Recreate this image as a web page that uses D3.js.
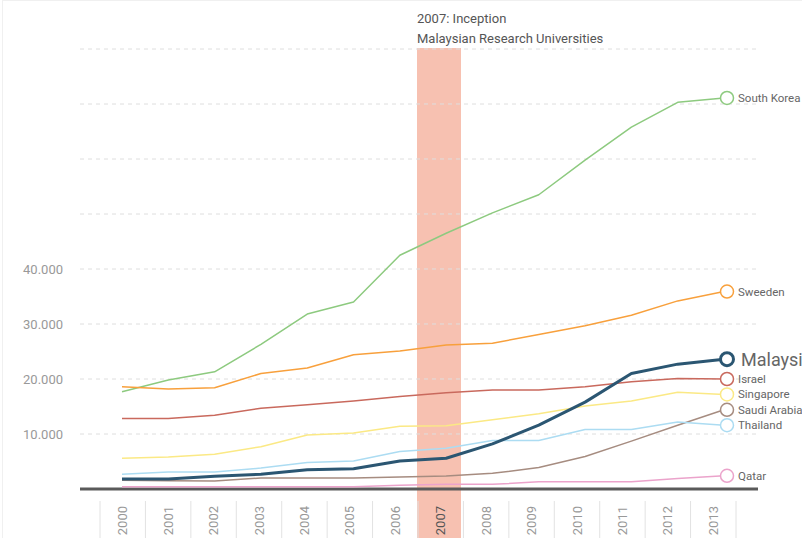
<!DOCTYPE html>
<html>
<head>
<meta charset="utf-8">
<script src="https://cdn.jsdelivr.net/npm/d3@7"></script>
<style>
  body { margin: 0; background: #fff; }
  text { font-family: Roboto, "Open Sans", sans-serif; }
</style>
</head>
<body>
<div id="chart"></div>
<script>
const years = [2000, 2001, 2002, 2003, 2004, 2005, 2006, 2007, 2008, 2009, 2010, 2011, 2012, 2013];

const southKorea = [17700, 19800, 21300, 26300, 31800, 34000, 42500, 46500, 50200, 53500, 59800, 65800, 70300, 71100];
const sweeden = [18600, 18200, 18400, 21000, 22000, 24400, 25100, 26200, 26500, 28100, 29700, 31600, 34200, 35900];
const malaysia = [1800, 1800, 2300, 2700, 3500, 3700, 5100, 5600, 8200, 11600, 15800, 21000, 22700, 23600];
const israel = [12800, 12800, 13400, 14700, 15300, 16000, 16800, 17500, 18000, 18000, 18600, 19500, 20100, 20000];
const singapore = [5600, 5800, 6300, 7700, 9800, 10200, 11400, 11500, 12600, 13700, 15100, 16000, 17600, 17200];
const saudiArabia = [1600, 1500, 1450, 2000, 2000, 2000, 2200, 2350, 2850, 3900, 5900, 8700, 11600, 14400];
const thailand = [2700, 3100, 3100, 3800, 4800, 5100, 6800, 7400, 8800, 8800, 10800, 10800, 12200, 11600];
const qatar = [400, 400, 400, 400, 400, 400, 700, 850, 850, 1300, 1300, 1300, 1900, 2400];

const yTicks = [10000, 20000, 30000, 40000];
const gridTicks = [10000, 20000, 30000, 40000, 50000, 60000, 70000, 80000];
const highlightYear = 2007;
const noteLines = ["2007: Inception", "Malaysian Research Universities"];

const series = [
  { name: "South Korea", values: southKorea, color: "#8dca7f" },
  { name: "Sweeden", values: sweeden, color: "#f8a03c" },
  { name: "Israel", values: israel, color: "#c9695d" },
  { name: "Singapore", values: singapore, color: "#fbe985" },
  { name: "Saudi Arabia", values: saudiArabia, color: "#a68c80" },
  { name: "Thailand", values: thailand, color: "#acdcf2" },
  { name: "Qatar", values: qatar, color: "#eba3cb" },
  { name: "Malaysia", values: malaysia, color: "#2b5672", main: true }
];

const width = 802, height = 538;

const svg = d3.select("#chart").append("svg")
  .attr("width", width)
  .attr("height", height);

// faint frame
svg.append("rect")
  .attr("x", 2.5).attr("y", 0.5)
  .attr("width", width).attr("height", height)
  .attr("fill", "none")
  .attr("stroke", "#f0f0f0");

const y = d3.scaleLinear().domain([0, 80000]).range([489, 49]);
const band = d3.scaleBand().domain(years).range([100, 736]).padding(0);
const x = d3.scalePoint().domain(years).range([122, 724]);

const fmt = d3.formatLocale({ decimal: ",", thousands: ".", grouping: [3], currency: ["", ""] }).format(",");

// highlight band
svg.append("rect")
  .attr("x", 417)
  .attr("width", 44)
  .attr("y", 48)
  .attr("height", height - 48)
  .attr("fill", "#f7c1b1");

// note
svg.append("g").selectAll("text")
  .data(noteLines)
  .enter()
  .append("text")
  .attr("x", 417)
  .attr("y", (d, i) => 23 + i * 20)
  .attr("font-size", 13)
  .attr("fill", "#555")
  .text(d => d);

// grid
svg.append("g").selectAll("line")
  .data(gridTicks)
  .enter()
  .append("line")
  .attr("x1", 80).attr("x2", 758)
  .attr("y1", d => y(d)).attr("y2", d => y(d))
  .attr("stroke", "#dedede")
  .attr("stroke-dasharray", "4,4");

// y axis labels
svg.append("g").selectAll("text")
  .data(yTicks)
  .enter()
  .append("text")
  .attr("x", 63)
  .attr("y", d => y(d))
  .attr("dy", "0.35em")
  .attr("text-anchor", "end")
  .attr("font-size", 13)
  .attr("fill", "#999")
  .text(d => fmt(d));

// x axis separators + labels
const xg = svg.append("g");
xg.selectAll("line")
  .data(years.concat([null]))
  .enter()
  .append("line")
  .attr("x1", (d, i) => 100 + i * band.step())
  .attr("x2", (d, i) => 100 + i * band.step())
  .attr("y1", 501).attr("y2", height)
  .attr("stroke", "#e2e2e2");

xg.selectAll("text")
  .data(years)
  .enter()
  .append("text")
  .attr("transform", d => "translate(" + (band(d) + band.bandwidth() / 2) + ",506)rotate(-90)")
  .attr("dy", "0.35em")
  .attr("text-anchor", "end")
  .attr("font-size", 13)
  .attr("fill", d => d === highlightYear ? "#555" : "#999")
  .text(d => d);

// baseline
svg.append("line")
  .attr("x1", 80).attr("x2", 758)
  .attr("y1", 489).attr("y2", 489)
  .attr("stroke", "#5a5a5a")
  .attr("stroke-width", 3);

const line = d3.line()
  .x((d, i) => x(years[i]))
  .y(d => y(d));

const g = svg.append("g");

series.forEach(s => {
  g.append("path")
    .datum(s.values)
    .attr("d", line)
    .attr("fill", "none")
    .attr("stroke", s.color)
    .attr("stroke-width", s.main ? 3 : 1.5)
    .attr("stroke-linejoin", "round");

  const last = s.values[s.values.length - 1];
  g.append("circle")
    .attr("cx", x(years[years.length - 1]) + 3)
    .attr("cy", y(last))
    .attr("r", 6.5)
    .attr("fill", "#fff")
    .attr("stroke", s.color)
    .attr("stroke-width", s.main ? 3 : 1.5);

  g.append("text")
    .attr("x", s.main ? 741 : 738)
    .attr("y", y(last))
    .attr("dy", "0.35em")
    .attr("font-size", s.main ? 18 : 11.5)
    .attr("fill", "#666")
    .text(s.name);
});
</script>
</body>
</html>
